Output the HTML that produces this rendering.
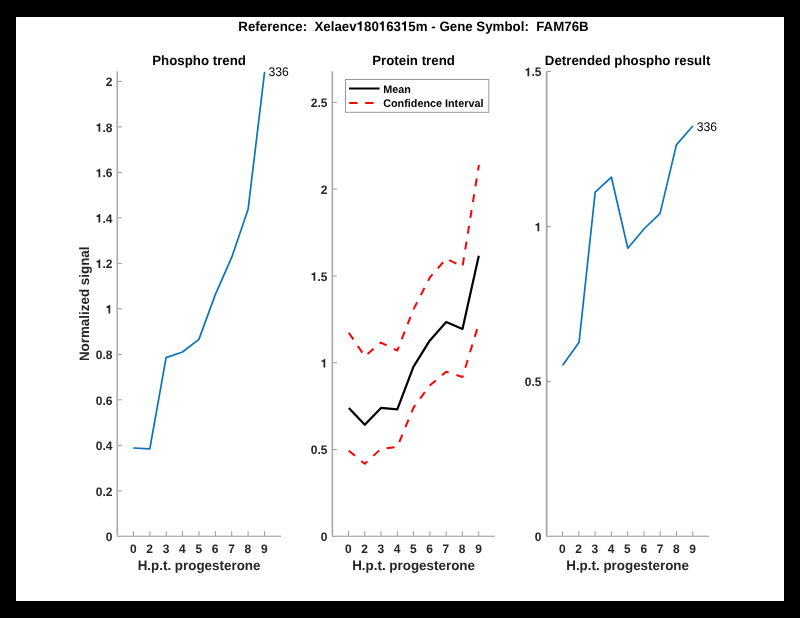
<!DOCTYPE html><html><head><meta charset="utf-8"><style>
html,body{margin:0;padding:0;background:#000;}
svg{display:block;will-change:transform;}
text{font-family:"Liberation Sans",sans-serif;text-rendering:geometricPrecision;}
</style></head><body>
<svg width="800" height="618" viewBox="0 0 800 618">
<rect x="0" y="0" width="800" height="618" fill="#000"/>
<rect x="16" y="17" width="768" height="584" fill="#fff"/>
<text id="t0" transform="translate(413.50 30.70) scale(1 1.02)" font-size="13.3" font-weight="bold" text-anchor="middle" fill="#000">Reference:  Xelaev 80 63 5m - Gene Symbol:  FAM76B</text>
<g transform="translate(413.50 30.70) scale(1 1.02)" fill="#000"><path transform="translate(-56.914 0.000) scale(0.01330 -0.01330)" d="M232 0L378 0L378 688L270 688C252 630 205 574 69 566L69 455L232 455Z"/><path transform="translate(-34.727 0.000) scale(0.01330 -0.01330)" d="M232 0L378 0L378 688L270 688C252 630 205 574 69 566L69 455L232 455Z"/><path transform="translate(-12.539 0.000) scale(0.01330 -0.01330)" d="M232 0L378 0L378 688L270 688C252 630 205 574 69 566L69 455L232 455Z"/></g>
<text id="t1" transform="translate(199.05 65.20) scale(1 1.02)" font-size="13.3" font-weight="bold" text-anchor="middle" fill="#000">Phospho trend</text>
<rect x="117" y="535" width="164.0" height="1" fill="#e2e2e2"/>
<rect x="117" y="536" width="164.0" height="1" fill="#b0b0b0"/>
<rect x="116" y="71.3" width="1" height="463.7" fill="#d0d0d0"/>
<rect x="117" y="71.3" width="1" height="465.7" fill="#acacac"/>
<path d="M133.47 536V531.2M149.85 536V531.2M166.22 536V531.2M182.60 536V531.2M198.97 536V531.2M215.35 536V531.2M231.72 536V531.2M248.10 536V531.2M264.48 536V531.2M118 490.81H121.9M118 445.32H121.9M118 399.83H121.9M118 354.34H121.9M118 308.85H121.9M118 263.36H121.9M118 217.87H121.9M118 172.38H121.9M118 126.89H121.9M118 81.40H121.9" fill="none" stroke="#9a9a9a" stroke-width="1"/>
<text id="t2" transform="translate(112.40 541.05) scale(1 1.03)" font-size="12" font-weight="bold" text-anchor="end" fill="#262626">0</text>
<text id="t3" transform="translate(112.40 495.56) scale(1 1.03)" font-size="12" font-weight="bold" text-anchor="end" fill="#262626">0.2</text>
<text id="t4" transform="translate(112.40 450.07) scale(1 1.03)" font-size="12" font-weight="bold" text-anchor="end" fill="#262626">0.4</text>
<text id="t5" transform="translate(112.40 404.58) scale(1 1.03)" font-size="12" font-weight="bold" text-anchor="end" fill="#262626">0.6</text>
<text id="t6" transform="translate(112.40 359.09) scale(1 1.03)" font-size="12" font-weight="bold" text-anchor="end" fill="#262626">0.8</text>
<text id="t7" transform="translate(112.40 313.60) scale(1 1.03)" font-size="12" font-weight="bold" text-anchor="end" fill="#262626"> </text>
<g transform="translate(112.40 313.60) scale(1 1.03)" fill="#262626"><path transform="translate(-6.688 0.000) scale(0.01200 -0.01200)" d="M232 0L378 0L378 688L270 688C252 630 205 574 69 566L69 455L232 455Z"/></g>
<text id="t8" transform="translate(112.40 268.11) scale(1 1.03)" font-size="12" font-weight="bold" text-anchor="end" fill="#262626"> .2</text>
<g transform="translate(112.40 268.11) scale(1 1.03)" fill="#262626"><path transform="translate(-16.688 0.000) scale(0.01200 -0.01200)" d="M232 0L378 0L378 688L270 688C252 630 205 574 69 566L69 455L232 455Z"/></g>
<text id="t9" transform="translate(112.40 222.62) scale(1 1.03)" font-size="12" font-weight="bold" text-anchor="end" fill="#262626"> .4</text>
<g transform="translate(112.40 222.62) scale(1 1.03)" fill="#262626"><path transform="translate(-16.688 0.000) scale(0.01200 -0.01200)" d="M232 0L378 0L378 688L270 688C252 630 205 574 69 566L69 455L232 455Z"/></g>
<text id="t10" transform="translate(112.40 177.13) scale(1 1.03)" font-size="12" font-weight="bold" text-anchor="end" fill="#262626"> .6</text>
<g transform="translate(112.40 177.13) scale(1 1.03)" fill="#262626"><path transform="translate(-16.688 0.000) scale(0.01200 -0.01200)" d="M232 0L378 0L378 688L270 688C252 630 205 574 69 566L69 455L232 455Z"/></g>
<text id="t11" transform="translate(112.40 131.64) scale(1 1.03)" font-size="12" font-weight="bold" text-anchor="end" fill="#262626"> .8</text>
<g transform="translate(112.40 131.64) scale(1 1.03)" fill="#262626"><path transform="translate(-16.688 0.000) scale(0.01200 -0.01200)" d="M232 0L378 0L378 688L270 688C252 630 205 574 69 566L69 455L232 455Z"/></g>
<text id="t12" transform="translate(112.40 86.15) scale(1 1.03)" font-size="12" font-weight="bold" text-anchor="end" fill="#262626">2</text>
<text id="t13" transform="translate(133.28 552.80) scale(1 1.03)" font-size="12" font-weight="bold" text-anchor="middle" fill="#262626">0</text>
<text id="t14" transform="translate(149.65 552.80) scale(1 1.03)" font-size="12" font-weight="bold" text-anchor="middle" fill="#262626">2</text>
<text id="t15" transform="translate(166.03 552.80) scale(1 1.03)" font-size="12" font-weight="bold" text-anchor="middle" fill="#262626">3</text>
<text id="t16" transform="translate(182.40 552.80) scale(1 1.03)" font-size="12" font-weight="bold" text-anchor="middle" fill="#262626">4</text>
<text id="t17" transform="translate(198.78 552.80) scale(1 1.03)" font-size="12" font-weight="bold" text-anchor="middle" fill="#262626">5</text>
<text id="t18" transform="translate(215.15 552.80) scale(1 1.03)" font-size="12" font-weight="bold" text-anchor="middle" fill="#262626">6</text>
<text id="t19" transform="translate(231.53 552.80) scale(1 1.03)" font-size="12" font-weight="bold" text-anchor="middle" fill="#262626">7</text>
<text id="t20" transform="translate(247.90 552.80) scale(1 1.03)" font-size="12" font-weight="bold" text-anchor="middle" fill="#262626">8</text>
<text id="t21" transform="translate(264.28 552.80) scale(1 1.03)" font-size="12" font-weight="bold" text-anchor="middle" fill="#262626">9</text>
<text id="t22" transform="translate(199.05 570.00) scale(1 1.02)" font-size="13.4" font-weight="bold" text-anchor="middle" fill="#262626">H.p.t. progesterone</text>
<text id="t23" transform="translate(413.55 65.20) scale(1 1.02)" font-size="13.3" font-weight="bold" text-anchor="middle" fill="#000">Protein trend</text>
<rect x="332" y="535" width="162.9" height="1" fill="#e2e2e2"/>
<rect x="332" y="536" width="162.9" height="1" fill="#b0b0b0"/>
<rect x="331" y="71.3" width="1" height="463.7" fill="#d8d8d8"/>
<rect x="332" y="71.3" width="1" height="465.7" fill="#a8a8a8"/>
<rect x="333" y="71.3" width="1" height="463.7" fill="#f0f0f0"/>
<path d="M348.47 536V531.2M364.75 536V531.2M381.02 536V531.2M397.30 536V531.2M413.57 536V531.2M429.85 536V531.2M446.12 536V531.2M462.40 536V531.2M478.67 536V531.2M333 449.50H336.9M333 362.70H336.9M333 275.90H336.9M333 189.10H336.9M333 102.30H336.9" fill="none" stroke="#9a9a9a" stroke-width="1"/>
<text id="t24" transform="translate(327.40 541.05) scale(1 1.03)" font-size="12" font-weight="bold" text-anchor="end" fill="#262626">0</text>
<text id="t25" transform="translate(327.40 454.25) scale(1 1.03)" font-size="12" font-weight="bold" text-anchor="end" fill="#262626">0.5</text>
<text id="t26" transform="translate(327.40 367.45) scale(1 1.03)" font-size="12" font-weight="bold" text-anchor="end" fill="#262626"> </text>
<g transform="translate(327.40 367.45) scale(1 1.03)" fill="#262626"><path transform="translate(-6.688 0.000) scale(0.01200 -0.01200)" d="M232 0L378 0L378 688L270 688C252 630 205 574 69 566L69 455L232 455Z"/></g>
<text id="t27" transform="translate(327.40 280.65) scale(1 1.03)" font-size="12" font-weight="bold" text-anchor="end" fill="#262626"> .5</text>
<g transform="translate(327.40 280.65) scale(1 1.03)" fill="#262626"><path transform="translate(-16.688 0.000) scale(0.01200 -0.01200)" d="M232 0L378 0L378 688L270 688C252 630 205 574 69 566L69 455L232 455Z"/></g>
<text id="t28" transform="translate(327.40 193.85) scale(1 1.03)" font-size="12" font-weight="bold" text-anchor="end" fill="#262626">2</text>
<text id="t29" transform="translate(327.40 107.05) scale(1 1.03)" font-size="12" font-weight="bold" text-anchor="end" fill="#262626">2.5</text>
<text id="t30" transform="translate(348.27 552.80) scale(1 1.03)" font-size="12" font-weight="bold" text-anchor="middle" fill="#262626">0</text>
<text id="t31" transform="translate(364.55 552.80) scale(1 1.03)" font-size="12" font-weight="bold" text-anchor="middle" fill="#262626">2</text>
<text id="t32" transform="translate(380.82 552.80) scale(1 1.03)" font-size="12" font-weight="bold" text-anchor="middle" fill="#262626">3</text>
<text id="t33" transform="translate(397.10 552.80) scale(1 1.03)" font-size="12" font-weight="bold" text-anchor="middle" fill="#262626">4</text>
<text id="t34" transform="translate(413.38 552.80) scale(1 1.03)" font-size="12" font-weight="bold" text-anchor="middle" fill="#262626">5</text>
<text id="t35" transform="translate(429.65 552.80) scale(1 1.03)" font-size="12" font-weight="bold" text-anchor="middle" fill="#262626">6</text>
<text id="t36" transform="translate(445.93 552.80) scale(1 1.03)" font-size="12" font-weight="bold" text-anchor="middle" fill="#262626">7</text>
<text id="t37" transform="translate(462.20 552.80) scale(1 1.03)" font-size="12" font-weight="bold" text-anchor="middle" fill="#262626">8</text>
<text id="t38" transform="translate(478.47 552.80) scale(1 1.03)" font-size="12" font-weight="bold" text-anchor="middle" fill="#262626">9</text>
<text id="t39" transform="translate(413.55 570.00) scale(1 1.02)" font-size="13.4" font-weight="bold" text-anchor="middle" fill="#262626">H.p.t. progesterone</text>
<text id="t40" transform="translate(627.60 65.20) scale(1 1.02)" font-size="13.3" font-weight="bold" text-anchor="middle" fill="#000">Detrended phospho result</text>
<rect x="546" y="535" width="163.0" height="1" fill="#e2e2e2"/>
<rect x="546" y="536" width="163.0" height="1" fill="#b0b0b0"/>
<rect x="545" y="71.3" width="1" height="463.7" fill="#eeeeee"/>
<rect x="546" y="71.3" width="1" height="465.7" fill="#a4a4a4"/>
<rect x="547" y="71.3" width="1" height="463.7" fill="#cccccc"/>
<path d="M562.49 536V531.2M578.78 536V531.2M595.07 536V531.2M611.36 536V531.2M627.65 536V531.2M643.94 536V531.2M660.23 536V531.2M676.52 536V531.2M692.81 536V531.2M547 381.35H550.9M547 226.40H550.9M547 71.45H550.9" fill="none" stroke="#9a9a9a" stroke-width="1"/>
<text id="t41" transform="translate(541.40 541.05) scale(1 1.03)" font-size="12" font-weight="bold" text-anchor="end" fill="#262626">0</text>
<text id="t42" transform="translate(541.40 386.10) scale(1 1.03)" font-size="12" font-weight="bold" text-anchor="end" fill="#262626">0.5</text>
<text id="t43" transform="translate(541.40 231.15) scale(1 1.03)" font-size="12" font-weight="bold" text-anchor="end" fill="#262626"> </text>
<g transform="translate(541.40 231.15) scale(1 1.03)" fill="#262626"><path transform="translate(-6.688 0.000) scale(0.01200 -0.01200)" d="M232 0L378 0L378 688L270 688C252 630 205 574 69 566L69 455L232 455Z"/></g>
<text id="t44" transform="translate(541.40 76.20) scale(1 1.03)" font-size="12" font-weight="bold" text-anchor="end" fill="#262626"> .5</text>
<g transform="translate(541.40 76.20) scale(1 1.03)" fill="#262626"><path transform="translate(-16.688 0.000) scale(0.01200 -0.01200)" d="M232 0L378 0L378 688L270 688C252 630 205 574 69 566L69 455L232 455Z"/></g>
<text id="t45" transform="translate(562.29 552.80) scale(1 1.03)" font-size="12" font-weight="bold" text-anchor="middle" fill="#262626">0</text>
<text id="t46" transform="translate(578.58 552.80) scale(1 1.03)" font-size="12" font-weight="bold" text-anchor="middle" fill="#262626">2</text>
<text id="t47" transform="translate(594.87 552.80) scale(1 1.03)" font-size="12" font-weight="bold" text-anchor="middle" fill="#262626">3</text>
<text id="t48" transform="translate(611.16 552.80) scale(1 1.03)" font-size="12" font-weight="bold" text-anchor="middle" fill="#262626">4</text>
<text id="t49" transform="translate(627.45 552.80) scale(1 1.03)" font-size="12" font-weight="bold" text-anchor="middle" fill="#262626">5</text>
<text id="t50" transform="translate(643.74 552.80) scale(1 1.03)" font-size="12" font-weight="bold" text-anchor="middle" fill="#262626">6</text>
<text id="t51" transform="translate(660.03 552.80) scale(1 1.03)" font-size="12" font-weight="bold" text-anchor="middle" fill="#262626">7</text>
<text id="t52" transform="translate(676.32 552.80) scale(1 1.03)" font-size="12" font-weight="bold" text-anchor="middle" fill="#262626">8</text>
<text id="t53" transform="translate(692.61 552.80) scale(1 1.03)" font-size="12" font-weight="bold" text-anchor="middle" fill="#262626">9</text>
<text id="t54" transform="translate(627.60 570.00) scale(1 1.02)" font-size="13.4" font-weight="bold" text-anchor="middle" fill="#262626">H.p.t. progesterone</text>
<text id="t55" transform="translate(89.4 303.8) rotate(-90) scale(1 1.02)" font-size="13.4" font-weight="bold" text-anchor="middle" fill="#262626">Normalized signal</text>
<path d="M133.60 448.00 L149.80 448.90 L166.10 357.60 L182.50 352.00 L198.90 339.40 L215.30 294.60 L231.80 257.20 L248.10 209.30 L264.50 72.60" fill="none" stroke="#0a74bf" stroke-width="1.7" stroke-linejoin="round" stroke-linecap="round"/>
<text id="t56" transform="translate(268.40 76.10) scale(1 1.03)" font-size="12.2" fill="#000">336</text>
<path d="M348.80 332.80 L364.80 356.30 L380.90 342.60 L397.30 350.50 L413.40 309.50 L429.70 277.70 L446.20 258.70 L462.50 266.50 L478.90 165.00" fill="none" stroke="#ff0000" stroke-width="2" stroke-dasharray="8 8" stroke-linejoin="round"/>
<path d="M348.80 450.70 L364.80 463.80 L381.00 448.70 L397.30 447.10 L413.40 407.80 L429.70 385.50 L446.20 371.80 L462.50 377.00 L478.90 323.30" fill="none" stroke="#ff0000" stroke-width="2" stroke-dasharray="8.07 8.07" stroke-linejoin="round"/>
<path d="M348.80 407.90 L364.80 424.80 L381.00 407.90 L397.30 409.30 L413.40 366.80 L429.70 340.70 L446.20 322.10 L462.50 328.90 L478.80 255.80" fill="none" stroke="#000" stroke-width="2.2" stroke-linejoin="round"/>
<rect x="345.5" y="79.5" width="143.3" height="32.8" fill="#fff" stroke="#9a9a9a" stroke-width="1"/>
<path d="M349 88.5 H379.6" stroke="#000" stroke-width="2"/>
<path d="M349.2 103 H379.6" stroke="#ff0000" stroke-width="2" stroke-dasharray="8.4 7.6"/>
<text id="t57" transform="translate(383.20 92.60) scale(1 1.02)" font-size="10.8" font-weight="bold" fill="#000">Mean</text>
<text id="t58" transform="translate(383.20 106.90) scale(1 1.02)" font-size="10.8" font-weight="bold" fill="#000">Confidence Interval</text>
<path d="M563.00 364.80 L579.10 342.20 L595.20 192.20 L611.40 177.20 L627.80 248.20 L643.90 229.00 L660.10 213.40 L676.40 144.90 L692.60 126.30" fill="none" stroke="#0a74bf" stroke-width="1.7" stroke-linejoin="round" stroke-linecap="round"/>
<text id="t59" transform="translate(696.80 130.80) scale(1 1.03)" font-size="12.2" fill="#000">336</text>
</svg></body></html>
